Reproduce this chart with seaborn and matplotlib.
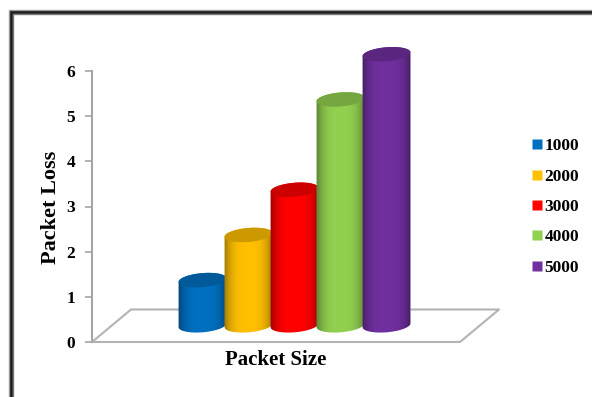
import numpy as np
import pandas as pd
import matplotlib
matplotlib.use("Agg")
import matplotlib.pyplot as plt
from matplotlib.colors import to_rgb
from matplotlib.patches import PathPatch, Rectangle
from matplotlib.path import Path
from matplotlib.lines import Line2D
import seaborn as sns

# Chart data
packet_sizes = ["1000", "2000", "3000", "4000", "5000"]
packet_loss = [1, 2, 3, 5, 6]
bar_colors = ["#0070C0", "#FFC000", "#FF0000", "#92D050", "#7030A0"]
y_ticks = [0, 1, 2, 3, 4, 5, 6]

# Figure geometry in pixels
W, H = 592, 397
AX_L, AX_R, AX_T, AX_B = 92, 500, 71, 342
PX_X = 46.0
PX_Y = (AX_B - AX_T) / 6
FIRST_BAR_PX = 202.5

sns.set_theme(style="white")
plt.rcParams["font.family"] = ["Liberation Serif", "DejaVu Serif"]
plt.rcParams["font.weight"] = "bold"

fig = plt.figure(figsize=(W / 100, H / 100), dpi=100)
ax = fig.add_axes([AX_L / W, 1 - AX_B / H, (AX_R - AX_L) / W, (AX_B - AX_T) / H])

df = pd.DataFrame({"size": packet_sizes, "loss": packet_loss})
floor_lift = 0.37  # the cylinders stand part-way back on the floor
sns.barplot(data=df, x="size", y="loss", hue="size", palette=bar_colors,
            order=packet_sizes, hue_order=packet_sizes, dodge=False,
            width=1.03, bottom=floor_lift, saturation=1, legend=False, ax=ax, zorder=3)

x0 = (AX_L - FIRST_BAR_PX) / PX_X
x1 = x0 + (AX_R - AX_L) / PX_X
ax.set_xlim(x0, x1)
ax.set_ylim(0, 6)
ax.set_xticks([])
ax.set_yticks(y_ticks)
ax.tick_params(axis="y", length=5, width=1.2, color="#a6a6a6", pad=7, left=True,
               labelsize=12.5, labelcolor="black")
for lbl in ax.get_yticklabels():
    lbl.set_fontweight("bold")
for side in ["top", "right", "bottom"]:
    ax.spines[side].set_visible(False)
ax.spines["left"].set_color("#a6a6a6")
ax.spines["left"].set_linewidth(1.5)
ax.set_xlabel("")
ax.set_ylabel("")

# Floor of the 3D plot, a parallelogram behind the cylinders
floor_x = [x0, (460 - FIRST_BAR_PX) / PX_X, (499 - FIRST_BAR_PX) / PX_X, (131 - FIRST_BAR_PX) / PX_X, x0]
floor_y = [0, 0, 32.5 / PX_Y, 32.5 / PX_Y, 0]
ax.add_line(Line2D(floor_x, floor_y, color="#b3b3b3", lw=1.5, zorder=1, clip_on=False))


def ellipse(cx, cy, t):
    """Tilted ellipse points, in data units, for parameter angles t."""
    a, b, phi = 24.0 / PX_X, 7.0 / PX_Y, np.deg2rad(5)
    ex, ey = a * np.cos(t), b * np.sin(t)
    return cx + ex * np.cos(phi) - ey * np.sin(phi), cy + ex * np.sin(phi) + ey * np.cos(phi)


bars = [b for c in ax.containers for b in c]
for i, (bar, color) in enumerate(zip(bars, bar_colors)):
    cx = bar.get_x() + bar.get_width() / 2
    y_base, y_top = bar.get_y(), bar.get_y() + bar.get_height()
    z = 3 + i

    # Silhouette: lower half of the base, straight sides, far half of the top
    bx, by = ellipse(cx, y_base, np.linspace(np.pi, 2 * np.pi, 40))
    tx, ty = ellipse(cx, y_top, np.linspace(0, np.pi, 40))
    verts = np.r_[np.c_[bx, by], np.c_[tx, ty], [[bx[0], by[0]]]]
    body = PathPatch(Path(verts, closed=True), fc="none", ec="none", transform=ax.transData, zorder=z)
    ax.add_patch(body)

    # Horizontal shading across the cylinder: dark rims, bright middle
    base = np.array(to_rgb(color))
    dark = base * 0.62
    s = np.linspace(0, 1, 64)
    shade = np.clip(np.abs(s - 0.5) / 0.5, 0, 1) ** 3.2
    grad = (base[None, :] * (1 - shade[:, None]) + dark[None, :] * shade[:, None])[None, :, :]
    half = 24.5 / PX_X
    im = ax.imshow(grad, extent=[cx - half, cx + half, y_base - 0.3, y_top + 0.3],
                   aspect="auto", zorder=z, interpolation="bilinear")
    im.set_clip_box(fig.bbox)
    im.set_clip_path(body)
    bar.set_zorder(z - 0.5)
    bar.set_clip_box(fig.bbox)
    bar.set_clip_path(body)

    # Top cap, shaded darker than the side
    cap_x, cap_y = ellipse(cx, y_top, np.linspace(0, 2 * np.pi, 80))
    ax.fill(cap_x, cap_y, color=base * 0.8, lw=0, zorder=z + 0.1, clip_on=False)

ax.set_xlim(x0, x1)
ax.set_ylim(0, 6)

# Axis titles
fig.text(275.5 / W, 1 - 360 / H, "Packet Size", ha="center", va="center", fontsize=15, fontweight="bold", color="black")
fig.text(51 / W, 1 - 207 / H, "Packet Loss", ha="center", va="center", rotation=90, fontsize=16, fontweight="bold", color="black")

# Legend with small square swatches
handles = [Line2D([], [], ls="", marker="s", ms=6.5, mfc=c, mec="none") for c in bar_colors]
fig.legend(handles, packet_sizes, loc="center left", bbox_to_anchor=(528 / W, 1 - 207 / H),
           frameon=False, prop={"family": "Liberation Serif", "weight": "bold", "size": 12.5},
           labelspacing=0.82, handletextpad=-0.04, handlelength=1.0, labelcolor="black",
           borderpad=0, borderaxespad=0)

# Picture frame running off the right and bottom edges
fig.add_artist(Rectangle((8.5 / W, -0.05), 1.0, 1 - 9.5 / H + 0.05, transform=fig.transFigure,
                         fc="none", ec="#9a9a9a", lw=1))
fig.add_artist(Rectangle((10.5 / W, -0.05), 1.0, 1 - 11.5 / H + 0.05, transform=fig.transFigure,
                         fc="none", ec="#1c1c1c", lw=2))
fig.add_artist(Rectangle((12.5 / W, -0.05), 1.0, 1 - 13.7 / H + 0.05, transform=fig.transFigure,
                         fc="none", ec="#777777", lw=1))

fig.savefig("out.png", dpi=100, facecolor="white")
